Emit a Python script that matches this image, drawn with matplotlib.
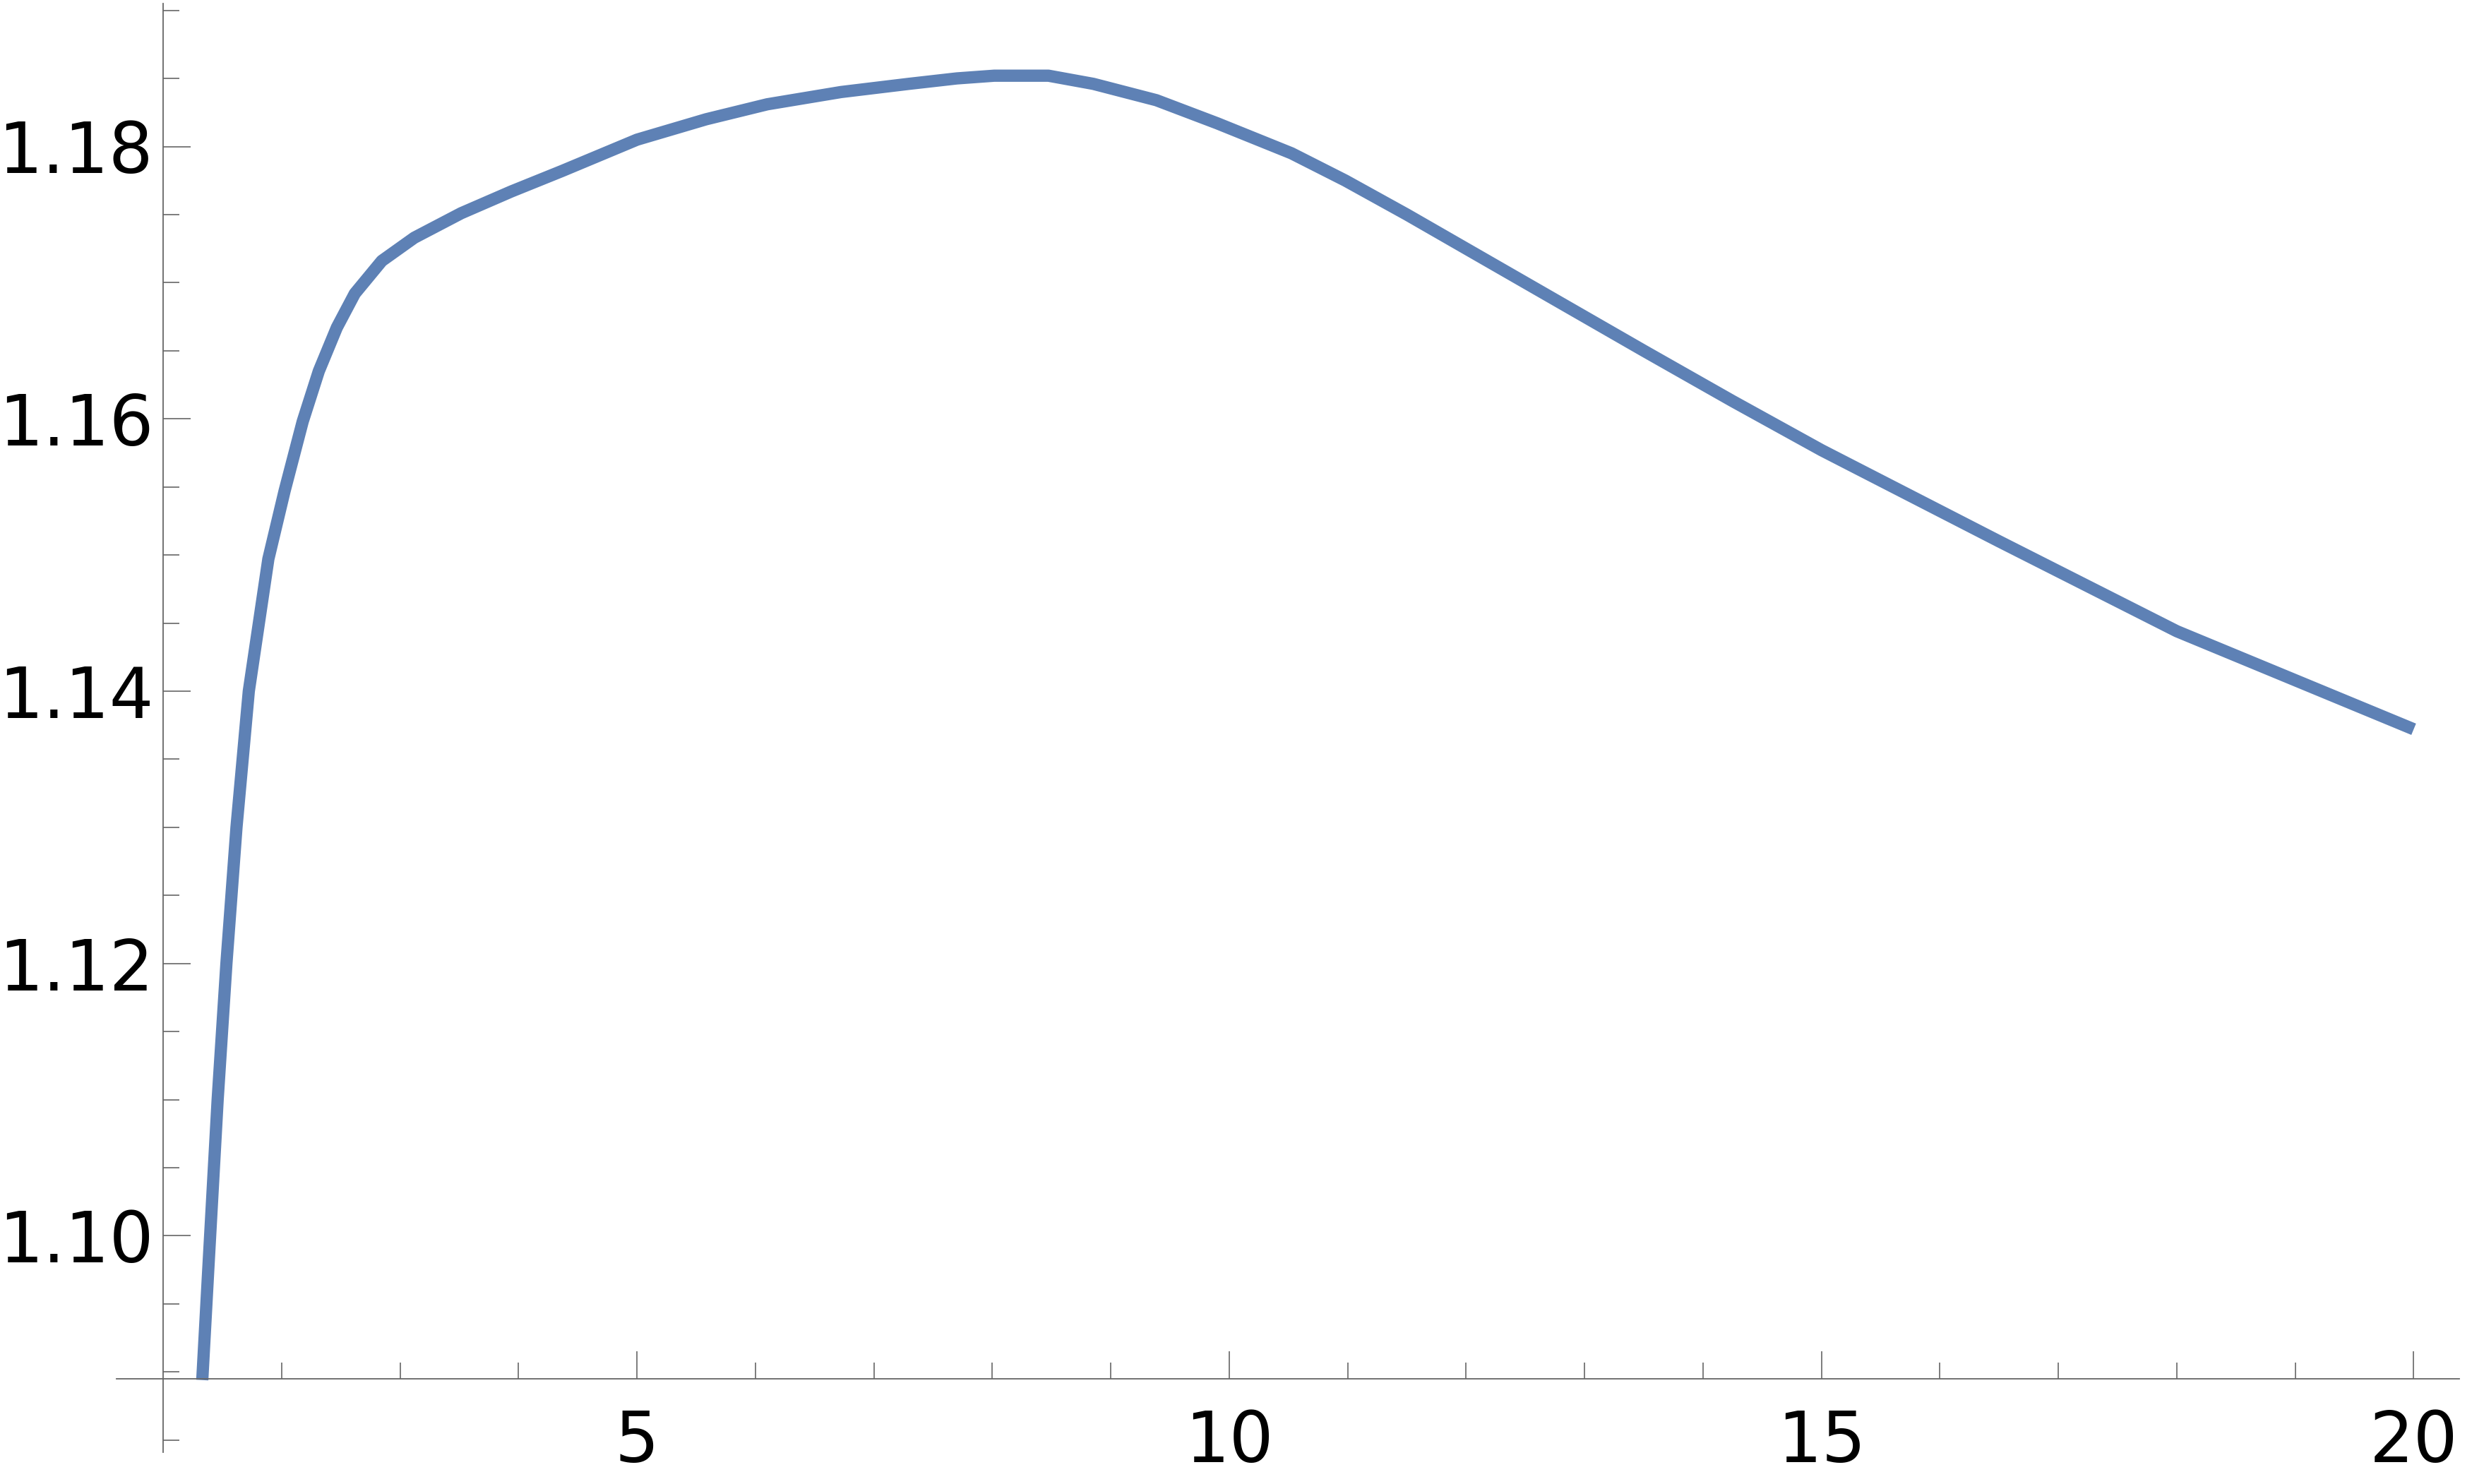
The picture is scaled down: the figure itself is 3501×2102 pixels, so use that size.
import numpy as np
import matplotlib
matplotlib.use('Agg')
import matplotlib.pyplot as plt
from matplotlib.ticker import FixedLocator, FormatStrFormatter

plt.rcParams['font.family'] = ['DejaVu Sans']

# curve
x_vals = [1.33, 1.38, 1.46, 1.534, 1.619, 1.723, 1.888, 2.025, 2.178, 2.314,
          2.466, 2.618, 2.846, 3.12, 3.516, 3.94, 4.367, 5.0, 5.584, 6.1,
          6.723, 7.294, 7.7, 8.017, 8.474, 8.853, 9.385, 9.9, 10.526, 10.98,
          11.5, 12.0, 13.5, 14.25, 15.0, 16.5, 17.25, 18.0, 19.0, 20.0]
y_vals = [1.0894, 1.0974, 1.1100, 1.1200, 1.1300, 1.1400, 1.1497, 1.1547, 1.1598, 1.1635,
          1.1667, 1.1692, 1.1716, 1.1733, 1.1751, 1.1767, 1.1782, 1.1805, 1.1820, 1.1831,
          1.1840, 1.1846, 1.1850, 1.1852, 1.1852, 1.1846, 1.1834, 1.1817, 1.1795, 1.1775,
          1.1750, 1.1725, 1.1650, 1.1613, 1.1577, 1.1510, 1.1477, 1.1444, 1.1408, 1.1372]

x_major = [5, 10, 15, 20]
x_minor = [2, 3, 4, 6, 7, 8, 9, 11, 12, 13, 14, 16, 17, 18, 19]
y_major = [1.10, 1.12, 1.14, 1.16, 1.18]
y_minor = [1.085, 1.09, 1.095, 1.105, 1.11, 1.115, 1.125, 1.13, 1.135, 1.145,
           1.15, 1.155, 1.165, 1.17, 1.175, 1.185, 1.19]

axis_col = "#666666"
line_col = "#5E81B5"

fig = plt.figure(figsize=(35.01, 21.02), dpi=100)
ax = fig.add_axes([165 / 3501, 45 / 2102, (3483 - 165) / 3501, (2097 - 45) / 2102])

ax.plot(x_vals, y_vals, color=line_col, linewidth=12.5, solid_capstyle='butt',
        solid_joinstyle='round')

ax.set_xlim(0.606, 20.385)
ax.set_ylim(1.0841, 1.1905)

for s in ['top', 'right']:
    ax.spines[s].set_visible(False)
ax.spines['left'].set_position(('data', 1))
ax.spines['bottom'].set_position(('data', 1.0895))
for s in ['left', 'bottom']:
    ax.spines[s].set_color(axis_col)
    ax.spines[s].set_linewidth(1.3)

ax.xaxis.set_major_locator(FixedLocator(x_major))
ax.xaxis.set_minor_locator(FixedLocator(x_minor))
ax.yaxis.set_major_locator(FixedLocator(y_major))
ax.yaxis.set_minor_locator(FixedLocator(y_minor))
ax.yaxis.set_major_formatter(FormatStrFormatter('%.2f'))

ax.tick_params(which='both', direction='in', color=axis_col, width=1.2)
ax.tick_params(which='major', length=27.9)
ax.tick_params(which='minor', length=16.3)
ax.tick_params(axis='x', which='major', pad=30, labelsize=71)
ax.tick_params(axis='y', which='major', pad=10, labelsize=71)

ax.patch.set_visible(False)
fig.savefig("out.png", dpi=100, facecolor="white")
